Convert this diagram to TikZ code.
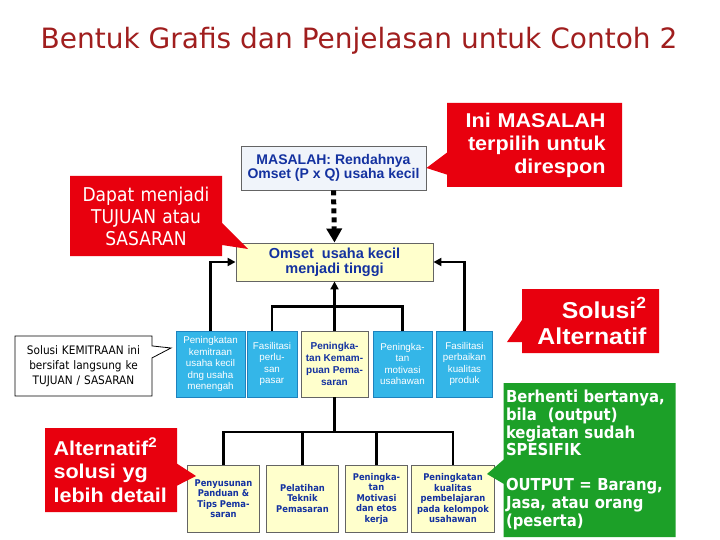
\documentclass[tikz,border=0pt]{standalone}
\usepackage{fontspec}
\setmainfont{Liberation Sans}
\newfontfamily\tahoma[FakeStretch=0.9]{DejaVu Sans}
\newfontfamily\titlefont{DejaVu Sans}
\newfontfamily\widesans[FakeStretch=1.08]{Liberation Sans}
\usetikzlibrary{arrows.meta,shapes.callouts}
\definecolor{calred}{RGB}{232,0,14}
\definecolor{cyanfill}{RGB}{52,182,232}
\definecolor{cyanline}{RGB}{30,130,190}
\definecolor{yellowfill}{RGB}{255,255,204}
\definecolor{grayline}{RGB}{100,100,100}
\definecolor{paleblue}{RGB}{240,244,250}
\definecolor{bluetext}{RGB}{20,50,160}
\definecolor{greenfill}{RGB}{28,160,40}
\definecolor{titlered}{RGB}{160,30,30}
\begin{document}
\begin{tikzpicture}[x=1pt,y=-1pt,
  mbox/.style={draw=grayline,line width=.9pt,inner sep=0pt,align=center,text=bluetext,font=\bfseries\fontsize{14}{12.5}\selectfont},
  kbox/.style={draw=cyanline,fill=cyanfill,line width=.8pt,inner sep=0pt,align=center,text=white,minimum height=66,font=\fontsize{9.8}{11.5}\selectfont},
  pbox/.style={draw=grayline,fill=yellowfill,line width=.8pt,inner sep=0pt,align=center,text=bluetext,minimum height=67,font=\tahoma\bfseries\fontsize{9.3}{10.5}\selectfont},
  rednote/.style={rectangle callout,fill=calred,text=white,inner sep=0pt,callout pointer width=22pt},
  edge/.style={-{Triangle[length=8pt,width=8pt]},line width=2.6pt},
  link/.style={line width=2.6pt},
  dotedge/.style={-{Triangle[length=14pt,width=15pt]},line width=5pt,dash pattern=on 5pt off 4pt}]
\useasboundingbox[fill=white] (0,0) rectangle (720,540);
\node[font=\titlefont\fontsize{28}{30}\selectfont,text=titlered] (title) at (359,41) {Bentuk Grafis dan Penjelasan untuk Contoh 2};
\node[mbox,fill=paleblue,minimum width=185,minimum height=44] (masalah) at (333.5,168) {MASALAH: Rendahnya\\Omset (P x Q) usaha kecil};
\node[mbox,fill=yellowfill,minimum width=197,minimum height=38,font=\bfseries\fontsize{14.5}{15}\selectfont] (omset) at (334.5,262) {Omset\ \ usaha kecil\\menjadi tinggi};
\node[kbox,minimum width=69] (k1) at (210.5,364) {Peningkatan\\kemitraan\\usaha kecil\\dng usaha\\menengah};
\node[kbox,minimum width=50] (k2) at (272,364) {Fasilitasi\\perlu-\\san\\pasar};
\node[kbox,minimum width=67,fill=yellowfill,draw=grayline,text=bluetext,font=\bfseries\fontsize{10}{12}\selectfont] (k3) at (334.5,364) {Peningka-\\tan Kemam-\\puan Pema-\\saran};
\node[kbox,minimum width=59] (k4) at (402.5,364) {Peningka-\\tan\\motivasi\\usahawan};
\node[kbox,minimum width=56] (k5) at (464.5,364) {Fasilitasi\\perbaikan\\kualitas\\produk};
\node[pbox,minimum width=72] (b1) at (223.5,498.5) {Penyusunan\\Panduan \&\\Tips Pema-\\saran};
\node[pbox,minimum width=72] (b2) at (302.5,498.5) {Pelatihan\\Teknik\\Pemasaran};
\node[pbox,minimum width=62] (b3) at (376.5,498.5) {Peningka-\\tan\\Motivasi\\dan etos\\kerja};
\node[pbox,minimum width=83] (b4) at (453,498.5) {Peningkatan\\kualitas\\pembelajaran\\pada kelompok\\usahawan};
\draw[dotedge] (masalah.south) -- (omset.north);
\draw[edge] (k1.north) |- (omset.west);
\draw[edge] (k5.north) |- (omset.east);
\draw[link] (k2.north) -- ++(0,-24) -| (k4.north);
\draw[edge] (k3.north) -- (omset.south);
\coordinate (hub) at (334.5,432);
\draw[link] (k3.south) -- (hub);
\draw[link] (b1.north) |- (hub) -| (b4.north);
\draw[link] (b2.north) -- (b2.north |- hub);
\draw[link] (b3.north) -- (b3.north |- hub);
\coordinate (tipdapat) at (248,249);
\coordinate (tipsolusi) at (507,342);
\coordinate (tipalt) at (196,476);
\coordinate (tipkemitraan) at (171,348);
\coordinate (tipoutput) at (487,474);
\node[rednote,callout absolute pointer={(masalah.east)},minimum width=175,minimum height=84,text width=142,align=right,font=\widesans\bfseries\fontsize{20}{23}\selectfont] (ini) at (534.5,145) {Ini MASALAH\\terpilih untuk\\direspon};
\node[rednote,callout absolute pointer={(tipdapat)},minimum width=152,minimum height=80,text width=140,align=center,font=\tahoma\fontsize{19}{22}\selectfont] (dapat) at (146,216) {Dapat menjadi\\TUJUAN atau\\SASARAN};
\node[rednote,callout absolute pointer={(tipsolusi)},minimum width=137,minimum height=64,text width=112,align=right,font=\widesans\bfseries\fontsize{23}{26}\selectfont] (solusi) at (590.5,321) {Solusi\textsuperscript{2}\\Alternatif};
\node[rednote,callout absolute pointer={(tipalt)},minimum width=132,minimum height=84,text width=115,align=left,font=\widesans\bfseries\fontsize{20}{23.5}\selectfont] (alt) at (111,470) {Alternatif\textsuperscript{2}\\solusi yg\\lebih detail};
\node[rectangle callout,callout absolute pointer={(tipkemitraan)},callout pointer width=12pt,draw=black,fill=white,line width=.8pt,inner sep=0pt,minimum width=137,minimum height=60,text width=130,align=center,font=\tahoma\fontsize{11.7}{15}\selectfont] (kemitraan) at (83.5,366) {Solusi KEMITRAAN ini\\bersifat langsung ke\\TUJUAN / SASARAN};
\node[rectangle callout,callout absolute pointer={(tipoutput)},callout pointer width=24pt,fill=greenfill,text=white,inner sep=0pt,minimum width=172,minimum height=154,text width=167,align=left,font=\tahoma\bfseries\fontsize{16.5}{17.6}\selectfont] (output) at (589.5,460) {Berhenti bertanya,\\bila\ \ (output)\\kegiatan sudah\\SPESIFIK\\[17.6pt]OUTPUT = Barang,\\Jasa, atau orang\\(peserta)};
\end{tikzpicture}
\end{document}
